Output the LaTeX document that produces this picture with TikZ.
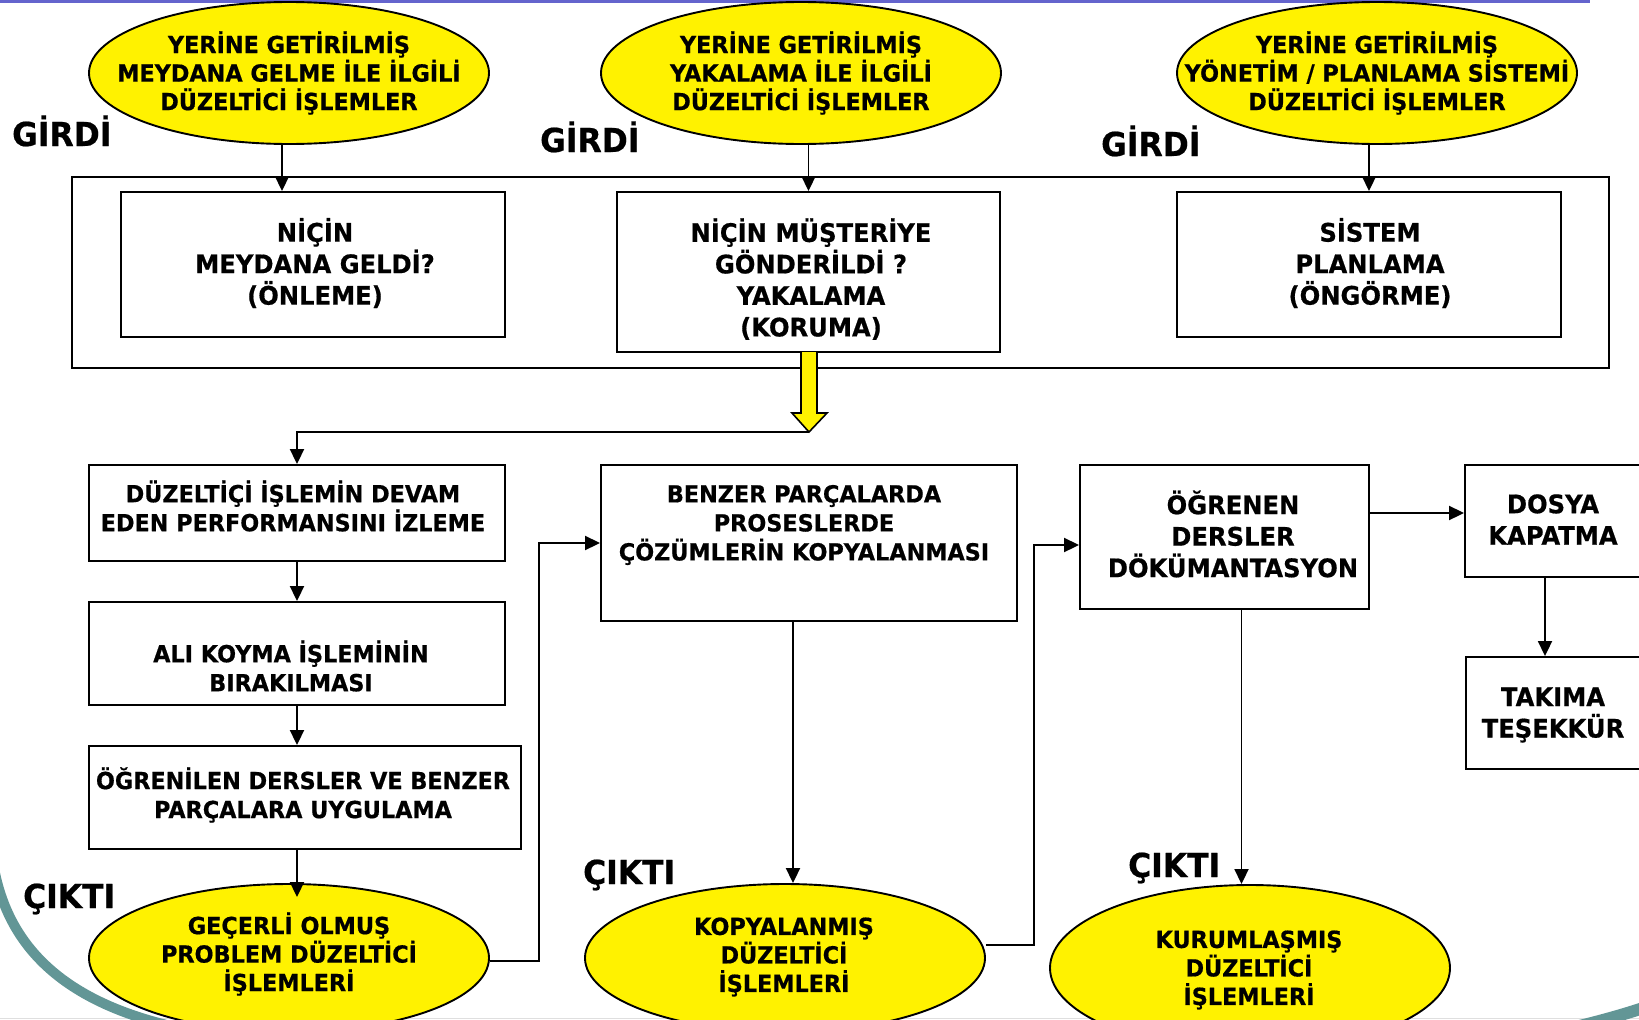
\documentclass[tikz,border=0pt]{standalone}
\usepackage{fontspec}
\setmainfont{DejaVu Sans}[FakeStretch=0.95, BoldFeatures={FakeBold=0.6}]
\usetikzlibrary{shapes.geometric,arrows.meta}
\definecolor{rimteal}{RGB}{98,150,150}
\definecolor{topline}{RGB}{100,100,205}
\newcommand{\szoval}{\fontsize{23.5}{28.5}\selectfont}
\newcommand{\szbig}{\fontsize{25.5}{31.5}\selectfont}
\newcommand{\szsmall}{\fontsize{23.5}{29}\selectfont}
\newcommand{\szlab}{\fontsize{33}{36}\selectfont}
\begin{document}
\begin{tikzpicture}[x=1pt,y=-1pt,
  oval/.style={ellipse, draw=black, line width=1.9pt, fill=yellow,
    minimum width=400pt, minimum height=142pt, inner sep=0pt},
  box/.style={draw=black, line width=1.9pt, fill=white, inner sep=0pt},
  txt/.style={align=center, inner sep=0pt, font=\bfseries},
  lab/.style={inner sep=0pt, font=\bfseries\szlab},
  arr/.style={line width=1.9pt, -{Triangle[length=15pt,width=14pt]}}]
\useasboundingbox (0,0) rectangle (1639,1020);
\fill[white] (0,0) rectangle (1639,1020);

% slide decoration: top rule, bottom rule and corner arcs
\fill[topline] (0,0) rectangle (1590,2.5);
\draw[gray!25, line width=1.5pt] (0,1018.5) -- (1639,1018.5);
\draw[rimteal, line width=10pt] (-6,868) .. controls (10,955) and (75,1010) .. (200,1032);
\draw[rimteal, line width=12pt] (1545,1034) .. controls (1590,1024) and (1620,1016) .. (1652,1005);

% input ovals
\node[oval] (E1) at (289,73) {};
\node[oval] (E2) at (801,73) {};
\node[oval] (E3) at (1377,73) {};
\node[txt, font=\bfseries\szoval] (E1t) at (E1.center) {YERİNE GETİRİLMİŞ\\MEYDANA GELME İLE İLGİLİ\\DÜZELTİCİ İŞLEMLER};
\node[txt, font=\bfseries\szoval] (E2t) at (E2.center) {YERİNE GETİRİLMİŞ\\YAKALAMA İLE İLGİLİ\\DÜZELTİCİ İŞLEMLER};
\node[txt, font=\bfseries\szoval] (E3t) at (E3.center) {YERİNE GETİRİLMİŞ\\YÖNETİM / PLANLAMA SİSTEMİ\\DÜZELTİCİ İŞLEMLER};

% GİRDİ / ÇIKTI labels
\node[lab, anchor=base west] (g1) at (12,146) {GİRDİ};
\node[lab, anchor=base west] (g2) at (540,152) {GİRDİ};
\node[lab, anchor=base west] (g3) at (1101,156) {GİRDİ};
\node[lab, anchor=base west] (c1) at (23,908) {ÇIKTI};
\node[lab, anchor=base west] (c2) at (583,884) {ÇIKTI};
\node[lab, anchor=base west] (c3) at (1128,877) {ÇIKTI};

% question frame
\node[draw=black, line width=1.9pt, minimum width=1537pt, minimum height=191pt, inner sep=0pt] (frame) at (840.5,272.5) {};
\node[box, minimum width=384pt, minimum height=145pt] (B1) at (313,264.5) {};
\node[box, minimum width=383pt, minimum height=160pt] (B2) at (808.5,272) {};
\node[box, minimum width=384pt, minimum height=145pt] (B3) at (1369,264.5) {};
\node[txt, font=\bfseries\szbig] (B1t) at (315,263) {NİÇİN\\MEYDANA GELDİ?\\(ÖNLEME)};
\node[txt, font=\bfseries\szbig] (B2t) at (811,279) {NİÇİN MÜŞTERİYE\\GÖNDERİLDİ ?\\YAKALAMA\\(KORUMA)};
\node[txt, font=\bfseries\szbig] (B3t) at (1370,263) {SİSTEM\\PLANLAMA\\(ÖNGÖRME)};

\draw[arr] ([xshift=-7pt]E1.south) -- ([xshift=-7pt]E1.south |- B1.north);
\draw[arr] (E2.south -| B2.north) -- (B2.north);
\draw[arr] (E3.south -| B3.north) -- (B3.north);

% yellow block arrow out of the frame
\coordinate (tip) at (809,432);
\draw[line width=1.6pt, fill=yellow, line join=miter]
  (801,352) -- (801,413) -- (792,413) -- (tip) -- (827,413) -- (817,413) -- (817,352);

% left column
\node[box, minimum width=416pt, minimum height=96pt] (L1) at (297,513) {};
\node[box, minimum width=416pt, minimum height=103pt] (L2) at (297,653.5) {};
\node[box, minimum width=432pt, minimum height=103pt] (L3) at (305,797.5) {};
\node[txt, font=\bfseries\szsmall] (L1t) at (293,506) {DÜZELTİÇİ İŞLEMİN DEVAM\\EDEN PERFORMANSINI İZLEME};
\node[txt, font=\bfseries\szsmall] (L2t) at (291,666) {ALI KOYMA İŞLEMİNİN\\BIRAKILMASI};
\node[txt, font=\bfseries\szsmall] (L3t) at (303,795) {ÖĞRENİLEN DERSLER VE BENZER\\PARÇALARA UYGULAMA};

% middle and right columns
\node[box, minimum width=416pt, minimum height=156pt] (M1) at (809,543) {};
\node[txt, font=\bfseries\szsmall] (M1t) at (804,525) {BENZER PARÇALARDA\\PROSESLERDE\\ÇÖZÜMLERİN KOPYALANMASI};
\node[box, minimum width=289pt, minimum height=144pt] (R1) at (1224.5,537) {};
\node[txt, font=\bfseries\szbig] (R1t) at (1233,534) {ÖĞRENEN\\DERSLER\\DÖKÜMANTASYON};
\node[box, minimum width=190pt, minimum height=112pt] (D) at (1560,521) {};
\node[txt, font=\bfseries\szbig] (Dt) at (1553,519.5) {DOSYA\\KAPATMA};
\node[box, minimum width=189pt, minimum height=112pt] (T) at (1560.5,713) {};
\node[txt, font=\bfseries\szbig] (Tt) at (1553,715) {TAKIMA\\TEŞEKKÜR};

% output ovals
\node[oval, minimum height=148pt] (O1) at (289,958) {};
\node[oval, minimum height=148pt] (O2) at (785,958) {};
\node[oval, minimum height=166pt] (O3) at (1250,968) {};
\node[txt, font=\bfseries\szoval] (O1t) at (289,954) {GEÇERLİ OLMUŞ\\PROBLEM DÜZELTİCİ\\İŞLEMLERİ};
\node[txt, font=\bfseries\szoval] (O2t) at (784,957) {KOPYALANMIŞ\\DÜZELTİCİ\\İŞLEMLERİ};
\node[txt, font=\bfseries\szoval] (O3t) at (1249,970) {KURUMLAŞMIŞ\\DÜZELTİCİ\\İŞLEMLERİ};

% connectors
\coordinate (o1in) at ([yshift=-14pt]O1.north);
\draw[arr] (tip) -| (L1.north);
\draw[arr] (L1.south) -- (L2.north);
\draw[arr] (L2.south) -- (L2.south |- L3.north);
\draw[arr] (L2.south |- L3.south) -- (L2.south |- o1in);
\draw[arr] ([yshift=-3pt]O1.east) -- ++(49,0) |- (M1.west);
\draw[arr] ([xshift=-16pt]M1.south) -- ([xshift=-16pt]M1.south |- O2.north);
\draw[arr] ([yshift=13pt]O2.east) -- ++(48,0) |- ([yshift=-8pt]R1.west);
\draw[arr] ([xshift=17pt]R1.south) -- ([xshift=17pt]R1.south |- O3.north);
\draw[arr] ([yshift=24pt]R1.east) -- ([yshift=24pt]R1.east -| D.west);
\draw[arr] ([xshift=-15pt]D.south) -- ([xshift=-15pt]D.south |- T.north);
\end{tikzpicture}
\end{document}
